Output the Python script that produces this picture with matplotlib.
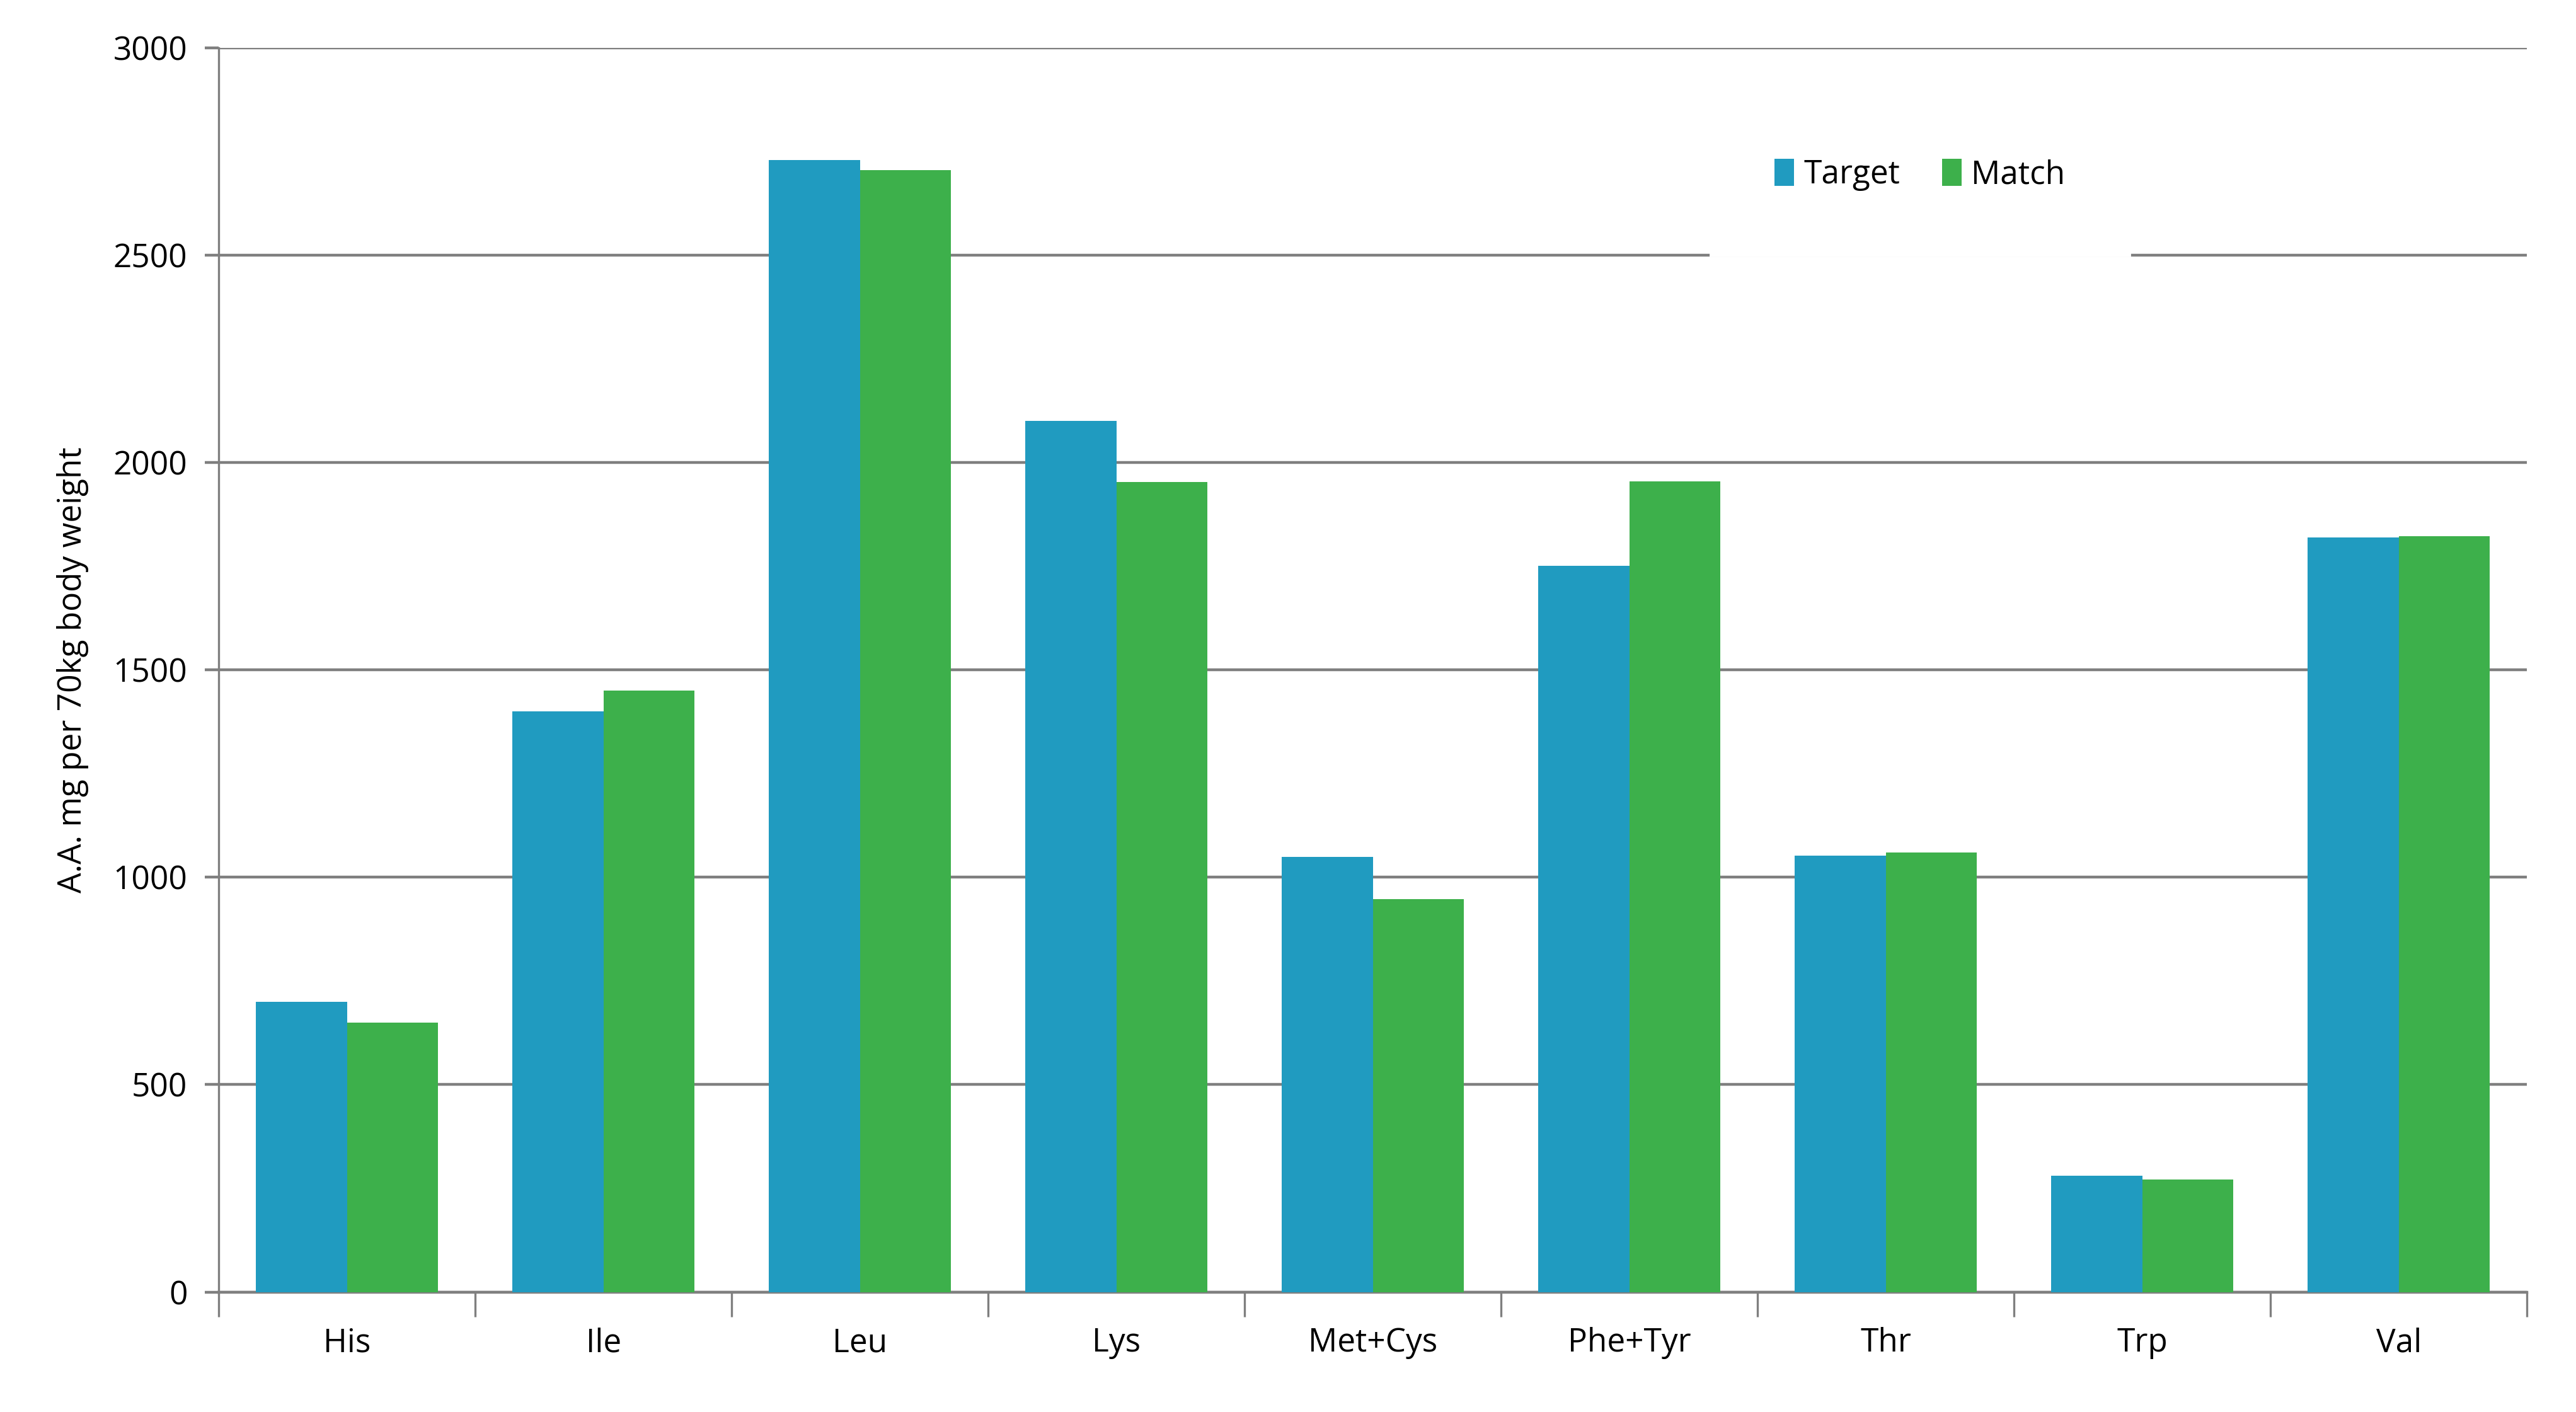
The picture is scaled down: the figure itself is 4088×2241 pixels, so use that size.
import matplotlib.pyplot as plt
import numpy as np

# Amino acid requirements vs match
categories = ['His', 'Ile', 'Leu', 'Lys', 'Met+Cys', 'Phe+Tyr', 'Thr', 'Trp', 'Val']
target = [700, 1400, 2730, 2100, 1050, 1752, 1052, 280, 1820]
match = [650, 1450, 2705, 1953, 948, 1955, 1060, 271, 1823]

plt.rcParams['font.family'] = ['Open Sans', 'DejaVu Sans']
fs = 18.5

fig = plt.figure(figsize=(20.44, 11.205), dpi=200)
ax = fig.add_axes([0.085, 0.085, 0.896, 0.881])

x = np.arange(len(categories))
w = 0.355
ax.bar(x - w / 2, target, w, color='#209BC0', label='Target', zorder=3)
ax.bar(x + w / 2, match, w, color='#3DB04B', label='Match', zorder=3)

ax.set_xlim(-0.5, len(categories) - 0.5)
ax.set_ylim(0, 3000)
ax.set_yticks(range(0, 3001, 500))
ax.yaxis.grid(True, color='#7f7f7f', linewidth=1.6, zorder=0)

# category labels centred, ticks at the category boundaries
ax.set_xticks(x)
ax.set_xticklabels(categories, fontsize=fs)
ax.set_xticks(np.arange(-0.5, len(categories)), minor=True)
ax.tick_params(axis='x', which='major', length=0, pad=20)
ax.tick_params(axis='x', which='minor', length=14, color='#7f7f7f', width=1.2)
ax.tick_params(axis='y', length=8, color='#7f7f7f', width=1.6, labelsize=fs, pad=10)

for s in ['top', 'right']:
    ax.spines[s].set_visible(False)
ax.spines['left'].set_color('#7f7f7f')
ax.spines['left'].set_linewidth(1.2)
ax.spines['bottom'].set_color('#7f7f7f')
ax.spines['bottom'].set_linewidth(1.6)

ax.set_ylabel('A.A. mg per 70kg body weight', fontsize=fs, labelpad=14)

leg = ax.legend(loc='center', bbox_to_anchor=(0.737, 0.898), ncol=2, fontsize=fs,
                frameon=True, fancybox=False, framealpha=1, edgecolor='white',
                handlelength=0.6, handleheight=0.9, handletextpad=0.3,
                columnspacing=1.3, borderpad=2.0)
leg.set_zorder(5)

fig.savefig('out.png', dpi=200, facecolor='white')
